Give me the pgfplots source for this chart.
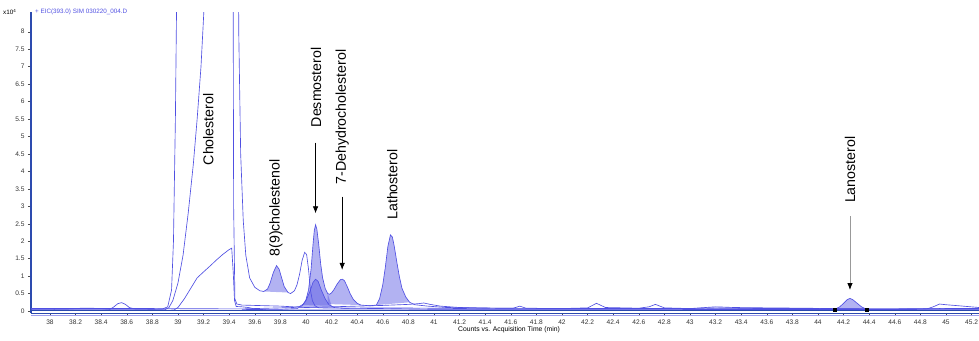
\documentclass[border=0pt]{standalone}
\usepackage{pgfplots}
\pgfplotsset{compat=1.18}
\usepackage{fontspec}
\setmainfont{Liberation Sans}
\usetikzlibrary{arrows.meta}
\definecolor{tr}{RGB}{80,80,226}
\definecolor{axb}{RGB}{45,75,175}
\begin{document}
\begin{tikzpicture}
\begin{axis}[name=ax, at={(0,0)}, anchor=south west, scale only axis,
 width=948pt, height=301pt,
 xmin=37.852, xmax=45.258, ymin=-0.057, ymax=8.565,
 axis x line*=bottom, axis y line*=left,
 x axis line style={draw=axb, line width=1pt},
 y axis line style={draw=axb, line width=1.6pt},
 xtick distance=0.2,
 ytick={0,0.5,1,1.5,2,2.5,3,3.5,4,4.5,5,5.5,6,6.5,7,7.5,8},
 tick align=outside, major tick length=3pt,
 tick style={black!70, line width=0.4pt},
 tick label style={font=\fontsize{6.6}{7}\selectfont, text=black!80},
 /pgf/number format/assume math mode=true,
]
% ---- filled integration areas
\addplot[draw=none, fill=tr, fill opacity=0.44] coordinates {
(39.67,0.56) (39.7,0.63) (39.72,0.8) (39.745,1.1) (39.77,1.3) (39.79,1.2) (39.81,0.95) (39.83,0.7) (39.86,0.53)} -- cycle;
\addplot[draw=none, fill=tr, fill opacity=0.44] coordinates {
(39.97,0.17) (39.98,0.2) (40.0,0.32) (40.02,0.6) (40.04,1.2) (40.055,1.9) (40.065,2.3) (40.075,2.47) (40.085,2.35) (40.1,1.9) (40.115,1.35) (40.13,0.95) (40.15,0.65) (40.17,0.5) (40.2,0.15)} -- cycle;
\addplot[draw=none, fill=tr, fill opacity=0.44] coordinates {
(40.17,0.5) (40.185,0.48) (40.2,0.52) (40.22,0.62) (40.245,0.78) (40.27,0.9) (40.285,0.91) (40.3,0.87) (40.32,0.72) (40.345,0.5) (40.37,0.33) (40.4,0.22) (40.43,0.17) (40.17,0.2)} -- cycle;
\addplot[draw=none, fill=tr, fill opacity=0.44] coordinates {
(40.55,0.17) (40.575,0.35) (40.6,0.75) (40.62,1.25) (40.64,1.85) (40.66,2.18) (40.675,2.12) (40.69,1.85) (40.71,1.4) (40.73,0.98) (40.75,0.65) (40.78,0.4) (40.81,0.25)} -- cycle;
\addplot[draw=none, fill=tr, fill opacity=0.44] coordinates {
(39.95,0.08) (39.97,0.15) (40.0,0.3) (40.03,0.55) (40.055,0.82) (40.075,0.91) (40.095,0.85) (40.12,0.6) (40.15,0.35) (40.18,0.18) (40.22,0.1)} -- cycle;
\addplot[draw=none, fill=tr, fill opacity=0.44] coordinates {
(44.13,0.05) (44.17,0.12) (44.2,0.22) (44.23,0.33) (44.25,0.36) (44.27,0.33) (44.3,0.24) (44.34,0.12) (44.38,0.05)} -- cycle;
% ---- trace A
\addplot[tr, line width=0.65pt, no marks] coordinates {
(37.852,0.05) (38.0,0.05) (38.15,0.06) (38.25,0.08) (38.32,0.08) (38.4,0.07) (38.47,0.05) (38.5,0.12) (38.53,0.21) (38.56,0.24) (38.59,0.19) (38.62,0.1) (38.66,0.06) (38.8,0.05) (38.88,0.06) (38.92,0.12) (38.95,0.6) (38.965,2) (38.98,5.5) (38.99,9) (39.0,20) (39.46,20) (39.475,8) (39.49,4.5) (39.51,2.6) (39.53,1.6) (39.56,0.95) (39.6,0.68) (39.64,0.58) (39.67,0.56) (39.7,0.63) (39.72,0.8) (39.745,1.1) (39.77,1.3) (39.79,1.2) (39.81,0.95) (39.83,0.7) (39.86,0.53) (39.88,0.5) (39.91,0.58) (39.93,0.75) (39.95,1.05) (39.97,1.45) (39.99,1.68) (40.005,1.62) (40.02,1.2) (40.035,0.6) (40.05,0.3) (40.07,0.15) (40.1,0.09) (40.3,0.08) (40.6,0.09) (41.0,0.08) (41.5,0.06) (42.0,0.06) (42.5,0.06) (43.0,0.06) (43.5,0.07) (44.0,0.07) (44.5,0.06) (45.0,0.07) (45.258,0.07)};
% ---- trace B
\addplot[tr, line width=0.65pt, no marks] coordinates {
(37.852,0.03) (38.3,0.04) (38.9,0.04) (38.93,0.1) (38.96,0.3) (39.0,0.8) (39.04,1.6) (39.08,2.8) (39.12,4.2) (39.15,5.5) (39.18,7) (39.2,8.4) (39.23,11) (39.26,20) (39.425,20) (39.435,3) (39.445,0.35) (39.46,0.2) (39.5,0.17) (39.6,0.16) (39.7,0.15) (39.8,0.14) (39.9,0.12) (40.0,0.1) (40.2,0.12) (40.4,0.14) (40.6,0.16) (40.8,0.19) (40.88,0.21) (40.92,0.23) (40.97,0.19) (41.05,0.14) (41.2,0.1) (41.5,0.08) (41.62,0.08) (41.67,0.14) (41.72,0.08) (42.0,0.07) (42.2,0.09) (42.27,0.22) (42.34,0.1) (42.6,0.08) (42.68,0.12) (42.73,0.19) (42.8,0.09) (43.0,0.07) (43.2,0.12) (43.35,0.1) (43.6,0.09) (43.9,0.08) (44.1,0.07) (44.4,0.06) (44.85,0.06) (44.9,0.12) (44.95,0.2) (45.0,0.18) (45.1,0.15) (45.258,0.1)};
% ---- trace C
\addplot[tr, line width=0.65pt, no marks] coordinates {
(37.852,0.02) (38.9,0.02) (38.97,0.03) (39.0,0.1) (39.05,0.35) (39.1,0.65) (39.15,0.95) (39.2,1.12) (39.23,1.22) (39.26,1.32) (39.3,1.46) (39.35,1.62) (39.4,1.76) (39.42,1.8) (39.432,1.1) (39.442,0.3) (39.455,0.13) (39.5,0.12) (39.55,0.1) (39.6,0.06) (39.7,0.03) (45.258,0.03)};
% ---- trace D
\addplot[tr, line width=0.65pt, no marks] coordinates {
(37.852,0.07) (38.8,0.07) (39.5,0.06) (39.9,0.1) (39.95,0.13) (39.98,0.2) (40.0,0.32) (40.02,0.6) (40.04,1.2) (40.055,1.9) (40.065,2.3) (40.075,2.47) (40.085,2.35) (40.1,1.9) (40.115,1.35) (40.13,0.95) (40.15,0.65) (40.17,0.5) (40.185,0.48) (40.2,0.52) (40.22,0.62) (40.245,0.78) (40.27,0.9) (40.285,0.91) (40.3,0.87) (40.32,0.72) (40.345,0.5) (40.37,0.33) (40.4,0.22) (40.43,0.17) (40.5,0.15) (40.55,0.17) (40.575,0.35) (40.6,0.75) (40.62,1.25) (40.64,1.85) (40.66,2.18) (40.675,2.12) (40.69,1.85) (40.71,1.4) (40.73,0.98) (40.75,0.65) (40.78,0.4) (40.81,0.25) (40.85,0.18) (40.95,0.14) (41.1,0.1) (41.5,0.08) (42.0,0.07) (42.5,0.07) (43.0,0.07) (43.2,0.09) (43.4,0.08) (44.13,0.05) (44.17,0.12) (44.2,0.22) (44.23,0.33) (44.25,0.36) (44.27,0.33) (44.3,0.24) (44.34,0.12) (44.38,0.05) (44.6,0.05) (44.95,0.07) (45.258,0.06)};
% ---- trace E
\addplot[tr, line width=0.65pt, no marks] coordinates {
(39.5,0.04) (39.8,0.05) (39.93,0.07) (39.97,0.15) (40.0,0.3) (40.03,0.55) (40.055,0.82) (40.075,0.91) (40.095,0.85) (40.12,0.6) (40.15,0.35) (40.18,0.18) (40.22,0.1) (40.3,0.08) (40.6,0.07) (41.0,0.05) (45.258,0.04)};
% ---- dark baseline
\addplot[axb, line width=1pt, no marks] coordinates {(37.852,0.01) (45.258,0.01)};
% ---- integration end markers
\addplot[only marks, mark=square*, mark size=1.3pt, black] coordinates {(44.13,0.03) (44.38,0.04)};
% ---- arrows
\draw[black, line width=0.6pt, -{Latex[length=7pt,width=5.5pt]}] (axis cs:40.075,4.82) -- (axis cs:40.075,2.8);
\draw[black, line width=0.6pt, -{Latex[length=7pt,width=5.5pt]}] (axis cs:40.283,3.28) -- (axis cs:40.283,1.18);
\draw[black!40, line width=0.9pt, -{Latex[length=7pt,width=5.5pt,color=black]}] (axis cs:44.25,2.71) -- (axis cs:44.25,0.6);
% ---- labels
\begin{scope}[every node/.style={rotate=90, anchor=west, inner sep=0pt, font=\fontsize{14.2}{16}\selectfont}]
\node at (axis cs:39.237,4.17) {Cholesterol};
\node at (axis cs:39.766,1.56) {8(9)cholestenol};
\node at (axis cs:40.078,5.26) {Desmosterol};
\node at (axis cs:40.284,3.62) {7-Dehydrocholesterol};
\node at (axis cs:40.674,2.61) {Lathosterol};
\node at (axis cs:44.25,3.09) {Lanosterol};
\end{scope}
\end{axis}
\draw[tr!55, line width=0.8pt] ([yshift=-2pt]ax.south west) -- ([yshift=-2pt]ax.south east);
\node[anchor=west, inner sep=0pt, font=\fontsize{6.3}{7}\selectfont] at ([xshift=-28pt]ax.north west) {x10\textsuperscript{4}};
\node[anchor=west, inner sep=0pt, text=tr, font=\fontsize{6.3}{7}\selectfont] at ([xshift=4pt]ax.north west) {+ EIC(393.0) SIM 030220\_004.D};
\node[inner sep=0pt, font=\fontsize{6.8}{7}\selectfont] at ([xshift=478pt,yshift=-17pt]ax.south west) {Counts vs. Acquisition Time (min)};
\pgfresetboundingbox
\path[use as bounding box] (-31pt,-27pt) rectangle (948pt,313pt);
\end{tikzpicture}
\end{document}
